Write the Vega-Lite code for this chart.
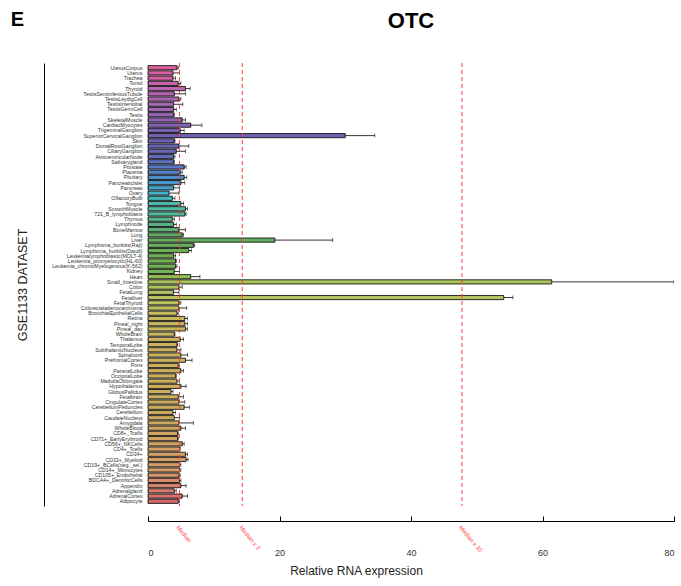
{
  "$schema": "https://vega.github.io/schema/vega-lite/v6.json",
  "padding": {"left": 10, "top": 9, "right": 0, "bottom": 4},
  "background": "white",
  "config": {"view": {"stroke": null}, "font": "Liberation Sans"},
  "title": {"text": "E", "orient": "left", "anchor": "end", "angle": 0, "align": "left", "baseline": "top", "fontSize": 20, "fontWeight": "bold", "offset": -8, "frame": "bounds", "color": "black"},
  "vconcat": [
    {
      "width": 526,
      "height": 443,
      "title": {"text": "OTC", "fontSize": 22, "fontWeight": "bold", "offset": 30, "color": "black"},
      "data": {"values": [
        {"t": "UterusCorpus", "v": 4.4, "hi": 4.6},
        {"t": "Uterus", "v": 3.8, "hi": 4.8},
        {"t": "Trachea", "v": 3.8, "hi": 4.2},
        {"t": "Tonsil", "v": 4.6, "hi": 5.0},
        {"t": "Thyroid", "v": 5.7, "hi": 6.4},
        {"t": "TestisSeminiferousTubule", "v": 4.0, "hi": 5.7},
        {"t": "TestisLeydigCell", "v": 4.7, "hi": 5.0},
        {"t": "TestisInterstitial", "v": 3.9, "hi": 5.3},
        {"t": "TestisGermCell", "v": 3.9, "hi": 4.3},
        {"t": "Testis", "v": 3.9, "hi": 4.0},
        {"t": "SkeletalMuscle", "v": 5.2, "hi": 5.7},
        {"t": "CardiacMyocytes", "v": 6.5, "hi": 8.2},
        {"t": "TrigeminalGanglion", "v": 4.9, "hi": 5.5},
        {"t": "SuperiorCervicalGanglion", "v": 30.0, "hi": 34.5},
        {"t": "Skin", "v": 4.0, "hi": 4.1},
        {"t": "DorsalRootGanglion", "v": 4.7, "hi": 6.2},
        {"t": "CiliaryGanglion", "v": 4.3, "hi": 5.7},
        {"t": "AtrioventricularNode", "v": 3.9, "hi": 4.1},
        {"t": "Salivarygland", "v": 3.9, "hi": 4.0},
        {"t": "Prostate", "v": 5.5, "hi": 5.8},
        {"t": "Placenta", "v": 4.9, "hi": 5.2},
        {"t": "Pituitary", "v": 5.5, "hi": 5.9},
        {"t": "PancreaticIslet", "v": 5.0, "hi": 5.6},
        {"t": "Pancreas", "v": 3.9, "hi": 4.8},
        {"t": "Ovary", "v": 3.2, "hi": 4.7},
        {"t": "OlfactoryBulb", "v": 3.7, "hi": 4.1},
        {"t": "Tongue", "v": 5.0, "hi": 5.4},
        {"t": "SmoothMuscle", "v": 5.7, "hi": 6.0},
        {"t": "721_B_lymphoblasts", "v": 5.6, "hi": 5.8},
        {"t": "Thymus", "v": 3.7, "hi": 4.0},
        {"t": "Lymphnode", "v": 3.9, "hi": 4.3},
        {"t": "BoneMarrow", "v": 4.7, "hi": 5.7},
        {"t": "Lung", "v": 5.2, "hi": 5.4},
        {"t": "Liver", "v": 19.3, "hi": 28.1},
        {"t": "Lymphoma_burkitts(Raji)", "v": 6.9, "hi": 7.1},
        {"t": "Lymphoma_burkitts(Daudi)", "v": 6.2, "hi": 6.6},
        {"t": "Leukemialymphoblastic(MOLT-4)", "v": 3.9, "hi": 4.2},
        {"t": "Leukemia_promyelocytic(HL-60)", "v": 4.2, "hi": 4.3},
        {"t": "Leukemia_chronicMyelogenous(K-562)", "v": 4.2, "hi": 4.4},
        {"t": "Kidney", "v": 4.0, "hi": 4.8},
        {"t": "Heart", "v": 6.5, "hi": 7.9},
        {"t": "Small_Intestine", "v": 61.4, "hi": 80},
        {"t": "Colon", "v": 4.7, "hi": 5.2},
        {"t": "FetalLung", "v": 3.9, "hi": 4.7},
        {"t": "Fetalliver", "v": 54.1, "hi": 55.5},
        {"t": "FetalThyroid", "v": 4.7, "hi": 5.0},
        {"t": "Colorectaladenocarcinoma", "v": 4.7, "hi": 5.9},
        {"t": "BronchialEpithelialCells", "v": 4.4, "hi": 4.6},
        {"t": "Retina", "v": 5.6, "hi": 6.0},
        {"t": "Pineal_night", "v": 5.6, "hi": 6.0},
        {"t": "Pineal_day", "v": 5.7, "hi": 6.0},
        {"t": "WholeBrain", "v": 4.0, "hi": 4.1},
        {"t": "Thalamus", "v": 4.9, "hi": 5.4},
        {"t": "TemporalLobe", "v": 4.4, "hi": 4.5},
        {"t": "SubthalamicNucleus", "v": 4.4, "hi": 5.0},
        {"t": "Spinalcord", "v": 5.0, "hi": 6.0},
        {"t": "PrefrontalCortex", "v": 5.7, "hi": 6.7},
        {"t": "Pons", "v": 4.6, "hi": 4.8},
        {"t": "ParietalLobe", "v": 5.0, "hi": 5.4},
        {"t": "OccipitalLobe", "v": 4.2, "hi": 4.3},
        {"t": "MedullaOblongata", "v": 4.4, "hi": 4.8},
        {"t": "Hypothalamus", "v": 5.0, "hi": 5.8},
        {"t": "GlobusPallidus", "v": 3.5, "hi": 3.8},
        {"t": "Fetalbrain", "v": 4.6, "hi": 5.4},
        {"t": "CingulateCortex", "v": 4.7, "hi": 5.6},
        {"t": "CerebellumPeduncles", "v": 5.5, "hi": 6.3},
        {"t": "Cerebellum", "v": 3.8, "hi": 4.2},
        {"t": "CaudateNucleus", "v": 4.0, "hi": 4.8},
        {"t": "Amygdala", "v": 4.7, "hi": 6.9},
        {"t": "WholeBlood", "v": 5.0, "hi": 5.7},
        {"t": "CD8+_Tcells", "v": 4.5, "hi": 4.6},
        {"t": "CD71+_EarlyErythroid", "v": 4.5, "hi": 4.6},
        {"t": "CD56+_NKCells", "v": 5.2, "hi": 5.5},
        {"t": "CD4+_Tcells", "v": 4.8, "hi": 4.9},
        {"t": "CD34+", "v": 5.7, "hi": 6.0},
        {"t": "CD33+_Myeloid", "v": 5.8, "hi": 6.1},
        {"t": "CD19+_BCells(neg._sel.)", "v": 4.8, "hi": 5.0},
        {"t": "CD14+_Monocytes", "v": 4.8, "hi": 5.0},
        {"t": "CD105+_Endothelial", "v": 4.7, "hi": 4.9},
        {"t": "BDCA4+_DentriticCells", "v": 4.8, "hi": 5.0},
        {"t": "Appendix", "v": 5.0, "hi": 5.8},
        {"t": "Adrenalgland", "v": 4.0, "hi": 4.3},
        {"t": "AdrenalCortex", "v": 5.2, "hi": 6.0},
        {"t": "Adipocyte", "v": 4.6, "hi": 4.8}
      ]},
      "resolve": {"axis": {"x": "independent"}},
      "layer": [
        {
          "transform": [{"window": [{"op": "row_number", "as": "rank"}]}],
          "mark": {"type": "bar", "stroke": "black", "strokeWidth": 0.8},
          "encoding": {
            "y": {"field": "t", "type": "nominal", "sort": null,
              "scale": {"paddingInner": 0.2, "paddingOuter": 0.5},
              "axis": {"title": "GSE1133 DATASET", "titleFontSize": 12.5, "titleFontWeight": "normal", "titleColor": "#222", "titlePadding": 15,
                "offset": 104, "domain": true, "domainColor": "black", "domainWidth": 1, "ticks": false, "tickSize": 0,
                "labelPadding": -98, "labelFontSize": 5.2, "labelColor": "#333", "labelLimit": 200, "labelOverlap": false}},
            "x": {"field": "v", "type": "quantitative", "scale": {"domain": [0, 80], "nice": false},
              "axis": {"orient": "bottom", "offset": 15, "values": [0, 20, 40, 60, 80], "grid": false,
                "domain": true, "domainColor": "black", "domainWidth": 1, "ticks": true, "tickColor": "black", "tickWidth": 1,
                "tickSize": -5, "labelPadding": 32, "labelFontSize": 9, "labelColor": "#333",
                "title": "Relative RNA expression", "titleFontSize": 12, "titleFontWeight": "normal", "titleColor": "#222", "titleX": 208, "titlePadding": 8}},
            "color": {"field": "rank", "type": "quantitative", "legend": null,
              "scale": {
                "domain": [1, 3, 5, 8, 11, 14, 17, 19, 21, 23, 25, 27, 29, 31, 33, 35, 40, 42, 46, 50, 55, 66, 69, 72, 78, 80, 82, 84],
                "range": ["#dc5f9c", "#d261a5", "#bb66b0", "#a567b3", "#9064b3", "#6f5fae", "#6964b4", "#5d6fbd", "#5281c5", "#4a98c9", "#47aec8", "#4cb9ac", "#52b89a", "#5ab083", "#63ab68", "#68ae58", "#77b452", "#a9c35c", "#bcc160", "#c9b85e", "#cbb25e", "#c9ad5d", "#cda960", "#d2a466", "#d49c68", "#d5906a", "#d47c70", "#d2696a"]}}
          }
        },
        {
          "mark": {"type": "rule", "color": "black", "strokeWidth": 0.8, "clip": true},
          "encoding": {
            "y": {"field": "t", "type": "nominal", "sort": null},
            "x": {"field": "v", "type": "quantitative", "axis": null},
            "x2": {"field": "hi"}
          }
        },
        {
          "mark": {"type": "tick", "color": "black", "thickness": 0.8, "size": 4, "orient": "vertical", "clip": true},
          "encoding": {
            "y": {"field": "t", "type": "nominal", "sort": null},
            "x": {"field": "hi", "type": "quantitative", "axis": null}
          }
        },
        {
          "data": {"values": [
            {"m": 4.78, "label": "Median"},
            {"m": 14.33, "label": "Median x 3"},
            {"m": 47.76, "label": "Median x 10"}
          ]},
          "mark": {"type": "rule", "color": "#ff3b3b", "strokeDash": [4, 3], "strokeWidth": 1},
          "encoding": {
            "x": {"field": "m", "type": "quantitative",
              "axis": {"orient": "bottom", "offset": 15, "values": [4.78, 14.33, 47.76],
                "labelExpr": "datum.value < 10 ? 'Median' : (datum.value < 20 ? 'Median x 3' : 'Median x 10')",
                "labelAngle": 50, "labelAlign": "left", "labelBaseline": "top", "labelColor": "#ff3b3b", "labelFontSize": 6,
                "labelPadding": 3, "domain": false, "ticks": false, "grid": false, "title": null,
                "labelOverlap": false, "labelFlush": false, "labelBound": false}}
          }
        }
      ]
    }
  ]
}
